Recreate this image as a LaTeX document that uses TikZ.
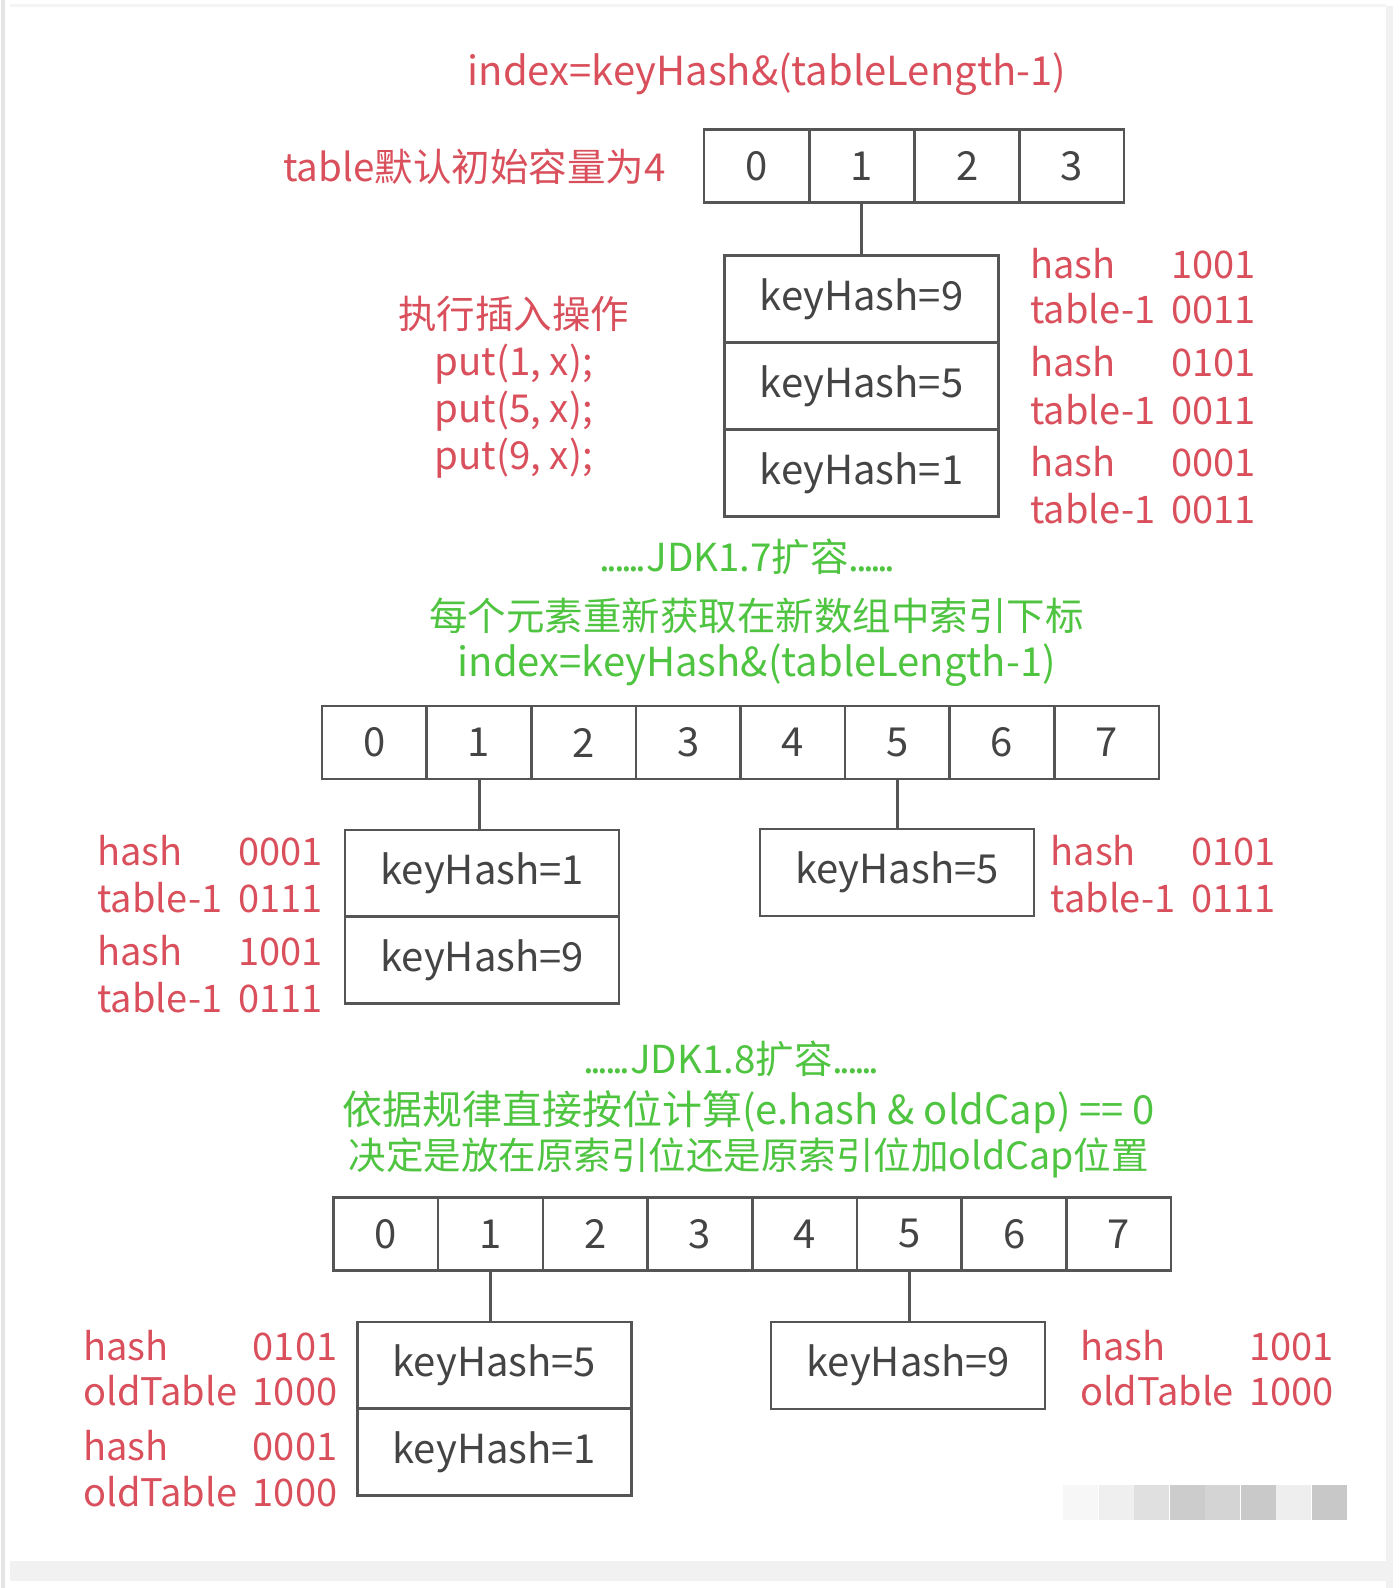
\documentclass[tikz,border=0pt]{standalone}
\usepackage{fontspec}
\setmainfont{Noto Sans CJK SC}
\definecolor{rd}{HTML}{D9505C}
\definecolor{gn}{HTML}{4EC440}
\definecolor{ln}{HTML}{555555}
\definecolor{tx}{HTML}{444444}
\definecolor{fr}{HTML}{E4E4E4}
\newcommand\myfs{\fontsize{40}{48}\selectfont}
\newcommand\mycjk{\fontsize{38.5}{47}\selectfont}
\newcommand\mylb{\fontsize{38}{47}\selectfont}
\newcommand\tdots{.\kern-3.5pt.\kern-3.5pt.\kern-3.5pt.\kern-3.5pt.\kern-3.5pt.}
\begin{document}
\begin{tikzpicture}[x=1.013pt,y=-1.013pt,
  cell/.style={draw=ln, line width=2.4pt, minimum height=73pt, inner sep=0pt, text=tx, font=\myfs},
  kbox/.style={draw=ln, line width=2.4pt, minimum width=274pt, minimum height=87pt, inner sep=0pt, text=tx, font=\myfs},
  lbl/.style={text=rd, font=\mylb, inner sep=0pt},
  glbl/.style={text=gn, font=\mycjk, inner sep=0pt},
  link/.style={draw=ln, line width=3pt},
  mos/.style={draw=none, minimum width=35pt, minimum height=35pt, inner sep=0pt}]
\useasboundingbox (0,0) rectangle (1382,1567.6);
\fill[white] (0,0) rectangle (1382,1567.6);
% faint frame
\fill[fr] (1,0) rectangle (4.5,1567.6);
\fill[fr!50] (1368,6) rectangle (1375,1567.6);
\fill[fr!50] (10,1541) rectangle (1375,1561);
\fill[fr!40] (10,4) rectangle (1368,7);

% ---------- part 1 : table of 4 ----------
\node[lbl, font=\myfs] (title) at (757,73) {index=keyHash\&(tableLength-1)};
\foreach \i/\x in {0/747,1/851,2/955,3/1058}
  \node[cell, minimum width=105pt] (a\i) at (\x,164) {\i};
\node[lbl, font=\mycjk, anchor=east] (cap) at (657,165) {table默认初始容量为4};
\node[kbox] (a9) at (850.5,295) {keyHash=9};
\node[kbox] (a5) at (850.5,381) {keyHash=5};
\node[kbox] (a1) at (850.5,467) {keyHash=1};
\draw[link] (a1.south |- a0.south) -- (a1.south |- a9.north);
\node[lbl, font=\mycjk, align=center] (ops) at (507,382) {执行插入操作\\put(1, x);\\put(5, x);\\put(9, x);};
\foreach \n/\y/\a/\b in {h1/260/hash/1001, t1/305/table-1/0011, h2/357/hash/0101, t2/404/table-1/0011, h3/456/hash/0001, t3/502/table-1/0011}
  \node[lbl, anchor=west] (\n) at (1017,\y) {\makebox[225pt]{\a\hfill\b}};

% ---------- part 2 : JDK 1.7 ----------
\node[glbl] (g1) at (738,550) {\tdots JDK1.7扩容\tdots};
\node[glbl] (g2) at (747,608) {每个元素重新获取在新数组中索引下标};
\node[glbl, font=\myfs] (g3) at (747,657) {index=keyHash\&(tableLength-1)};
\foreach \i in {0,...,7}
  \node[cell, minimum width=104.5pt] (b\i) at ({369.6+103.25*\i},733) {\i};
\node[kbox] (b1k) at (476,862.5) {keyHash=1};
\node[kbox] (b9k) at (476,947.5) {keyHash=9};
\node[kbox] (b5k) at (885.5,861.5) {keyHash=5};
\draw[link] (b1.south) -- (b1.south |- b1k.north);
\draw[link] (b5.south) -- (b5.south |- b5k.north);
\foreach \n/\y/\a/\b in {bh1/840/hash/0001, bt1/886/table-1/0111, bh2/938/hash/1001, bt2/985/table-1/0111}
  \node[lbl, anchor=west] (\n) at (96,\y) {\makebox[225pt]{\a\hfill\b}};
\foreach \n/\y/\a/\b in {bh3/840/hash/0101, bt3/886/table-1/0111}
  \node[lbl, anchor=west] (\n) at (1037,\y) {\makebox[225pt]{\a\hfill\b}};

% ---------- part 3 : JDK 1.8 ----------
\node[glbl] (j1) at (722,1045) {\tdots JDK1.8扩容\tdots};
\node[glbl, font=\myfs] (j2) at (739,1098) {依据规律直接按位计算(e.hash \& oldCap) == 0};
\node[glbl, font=\fontsize{37.5}{46}\selectfont] (j3) at (739,1143) {决定是放在原索引位还是原索引位加oldCap位置};
\foreach \i in {0,...,7}
  \node[cell, minimum width=104.6pt] (c\i) at ({380.7+103.4*\i},1218) {\i};
\node[kbox] (c5k) at (488,1348) {keyHash=5};
\node[kbox] (c1k) at (488,1433.5) {keyHash=1};
\node[kbox] (c9k) at (896.5,1348) {keyHash=9};
\draw[link] (c1.south) -- (c1.south |- c5k.north);
\draw[link] (c5.south) -- (c5.south |- c9k.north);
\foreach \n/\y/\a/\b in {ch1/1328/hash/0101, ct1/1373/oldTable/1000, ch2/1427/hash/0001, ct2/1472/oldTable/1000}
  \node[lbl, anchor=west] (\n) at (82,\y) {\makebox[254pt]{\a\hfill\b}};
\foreach \n/\y/\a/\b in {ch3/1328/hash/1001, ct3/1373/oldTable/1000}
  \node[lbl, anchor=west] (\n) at (1066,\y) {\makebox[254pt]{\a\hfill\b}};

% ---------- blurred mosaic mark ----------
\foreach \k/\c in {0/F7F7F7,1/EFEFEF,2/E0E0E0,3/CCCCCC,4/D4D4D4,5/C9C9C9,6/EEEEEE,7/C8C8C8}{
  \definecolor{mc}{HTML}{\c}
  \node[mos, fill=mc] (m\k) at ({1067+35*\k},1483) {};
}
\end{tikzpicture}
\end{document}
